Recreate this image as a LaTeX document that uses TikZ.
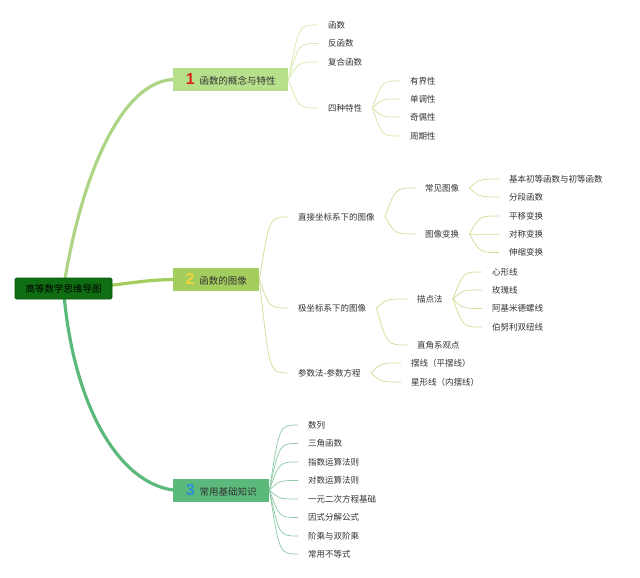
\documentclass[tikz,border=0pt]{standalone}
\usepackage{fontspec}
\setmainfont{Noto Sans CJK SC}
\newfontfamily\numfont{Liberation Sans}
\usetikzlibrary{calc,backgrounds}
\definecolor{tx}{HTML}{333333}
\definecolor{rootfill}{HTML}{0F6E12}
\definecolor{rootdraw}{HTML}{0A560C}
\definecolor{bonefill}{HTML}{B6E08C}
\definecolor{btwofill}{HTML}{A3CE5E}
\definecolor{bthreefill}{HTML}{5CB97C}
\definecolor{lone}{HTML}{D5E9A6}
\definecolor{ltwo}{HTML}{D0DC96}
\definecolor{lthree}{HTML}{8BCAA5}
\definecolor{numred}{HTML}{D9251C}
\definecolor{numyellow}{HTML}{F2D33A}
\definecolor{numblue}{HTML}{2D8FD5}
\newcommand\brnum[2]{{\color{#1}\numfont\bfseries\fontsize{16}{16}\selectfont #2}\hspace{5pt}}
\begin{document}
\begin{tikzpicture}[x=1pt,y=-1pt,
  txt/.style={anchor=west, inner xsep=10pt, inner ysep=2pt, text=tx, font=\fontsize{8.5}{10}\selectfont},
  branch/.style={anchor=west, minimum height=23pt, inner xsep=7pt, inner ysep=0pt, text=tx, font=\fontsize{9.5}{11}\selectfont},
  rootbox/.style={fill=rootfill, draw=rootdraw, line width=0.8pt, rounded corners=1.5pt, minimum width=97pt, minimum height=21pt, inner sep=0pt, text=black, font=\fontsize{9.5}{11}\selectfont},
  mainline/.style={line width=3.2pt, line cap=round},
  sub/.style={line width=0.7pt, to path={let \p1=(\tikztostart), \p2=(\tikztotarget) in .. controls ({\x1+0.35*(\x2-\x1)},\y2) .. (\tikztotarget)}}
]
\useasboundingbox (0,0) rectangle (640,578);

% root and branches
\node[rootbox] (root) at (63.5,288.5) {高等数学思维导图};
\node[branch, fill=bonefill, minimum width=115pt] (b1) at (173,79.5) {\brnum{numred}{1}函数的概念与特性};
\node[branch, fill=btwofill, minimum width=86pt] (b2) at (173,279.5) {\brnum{numyellow}{2}函数的图像};
\node[branch, fill=bthreefill, minimum width=96pt] (b3) at (173,490) {\brnum{numblue}{3}常用基础知识};

\begin{pgfonlayer}{background}
\fill[white] (0,0) rectangle (640,578);
\draw[mainline, color=bonefill!95!black] (root.center) .. controls (80,180) and (120,82) .. (b1.west);
\draw[mainline, color=btwofill] (root.center) .. controls (110,288) and (135,280) .. (b2.west);
\draw[mainline, color=bthreefill] (root.center) .. controls (72,400) and (116,482) .. (b3.west);
\end{pgfonlayer}

% branch 1
\node[txt] (f1) at (318,25) {函数};
\node[txt] (f2) at (318,43.5) {反函数};
\node[txt] (f3) at (318,62) {复合函数};
\node[txt] (f4) at (318,108) {四种特性};
\node[txt] (f41) at (400,81) {有界性};
\node[txt] (f42) at (400,99) {单调性};
\node[txt] (f43) at (400,117) {奇偶性};
\node[txt] (f44) at (400,136) {周期性};
\foreach \c in {f1,f2,f3,f4} \draw[sub, lone] (b1.east) to (\c.west);
\foreach \c in {f41,f42,f43,f44} \draw[sub, lone] (f4.east) to (\c.west);

% branch 2
\node[txt] (g1) at (288,217) {直接坐标系下的图像};
\node[txt] (g2) at (288,308) {极坐标系下的图像};
\node[txt] (g3) at (288,373) {参数法-参数方程};
\node[txt] (g11) at (415,188) {常见图像};
\node[txt] (g12) at (415,234) {图像变换};
\node[txt] (g111) at (499,179) {基本初等函数与初等函数};
\node[txt] (g112) at (499,197) {分段函数};
\node[txt] (g121) at (499,216) {平移变换};
\node[txt] (g122) at (499,234) {对称变换};
\node[txt] (g123) at (499,252.5) {伸缩变换};
\node[txt] (g21) at (407,299) {描点法};
\node[txt] (g22) at (407,345) {直角系观点};
\node[txt] (g211) at (482,272) {心形线};
\node[txt] (g212) at (482,290) {玫瑰线};
\node[txt] (g213) at (482,308.5) {阿基米德螺线};
\node[txt] (g214) at (482,327) {伯努利双纽线};
\node[txt] (g31) at (401,363) {摆线（平摆线）};
\node[txt] (g32) at (401,382) {星形线（内摆线）};
\foreach \c in {g1,g2,g3} \draw[sub, ltwo] (b2.east) to (\c.west);
\foreach \c in {g11,g12} \draw[sub, ltwo] (g1.east) to (\c.west);
\foreach \c in {g111,g112} \draw[sub, ltwo] (g11.east) to (\c.west);
\foreach \c in {g121,g122,g123} \draw[sub, ltwo] (g12.east) to (\c.west);
\foreach \c in {g21,g22} \draw[sub, ltwo] (g2.east) to (\c.west);
\foreach \c in {g211,g212,g213,g214} \draw[sub, ltwo] (g21.east) to (\c.west);
\foreach \c in {g31,g32} \draw[sub, ltwo] (g3.east) to (\c.west);

% branch 3
\node[txt] (h1) at (298,425) {数列};
\node[txt] (h2) at (298,443.5) {三角函数};
\node[txt] (h3) at (298,462) {指数运算法则};
\node[txt] (h4) at (298,480.5) {对数运算法则};
\node[txt] (h5) at (298,499) {一元二次方程基础};
\node[txt] (h6) at (298,517.5) {因式分解公式};
\node[txt] (h7) at (298,536) {阶乘与双阶乘};
\node[txt] (h8) at (298,554) {常用不等式};
\foreach \c in {h1,h2,h3,h4,h5,h6,h7,h8} \draw[sub, lthree] (b3.east) to (\c.west);
\end{tikzpicture}
\end{document}
